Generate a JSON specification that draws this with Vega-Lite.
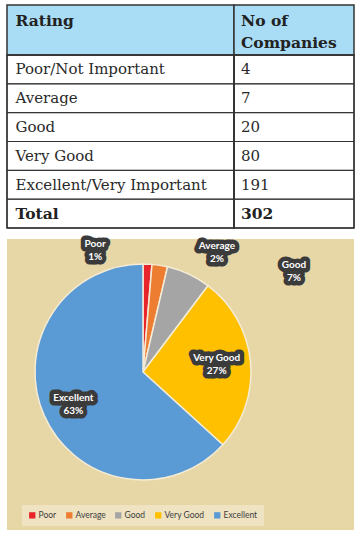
{
  "$schema": "https://vega.github.io/schema/vega-lite/v6.json",
  "padding": {"left": 5, "top": 4, "right": 5, "bottom": 5},
  "background": "#ffffff",
  "spacing": 9,
  "datasets": {
    "ratings": [
      {"Rating": "Poor/Not Important", "Label": "Poor", "Companies": 4, "PieLabel": "Poor\n1%"},
      {"Rating": "Average", "Label": "Average", "Companies": 7, "PieLabel": "Average\n2%"},
      {"Rating": "Good", "Label": "Good", "Companies": 20, "PieLabel": "Good\n7%"},
      {"Rating": "Very Good", "Label": "Very Good", "Companies": 80, "PieLabel": "Very Good\n27%"},
      {"Rating": "Excellent/Very Important", "Label": "Excellent", "Companies": 191, "PieLabel": "Excellent\n63%"},
      {"Rating": "Total", "Label": null, "Companies": 302, "PieLabel": null}
    ],
    "columns": [{"Column": "Rating"}, {"Column": "No of\nCompanies"}]
  },
  "config": {"view": {"stroke": null}, "font": "DejaVu Serif"},
  "vconcat": [
    {
      "columns": 2,
      "spacing": 0,
      "bounds": "flush",
      "align": "each",
      "concat": [
        {
          "width": 227, "height": 50,
          "view": {"fill": "#a9dcf5", "stroke": "#333333", "strokeWidth": 1.5},
          "data": {"name": "columns"},
          "transform": [{"filter": "datum.Column === 'Rating'"}],
          "mark": {"type": "text", "align": "left", "baseline": "alphabetic", "dx": -105, "dy": -4, "font": "DejaVu Serif", "fontWeight": "bold", "fontSize": 15.5, "fill": "#222222"},
          "encoding": {"text": {"field": "Column", "type": "nominal"}}
        },
        {
          "width": 120, "height": 50,
          "view": {"fill": "#a9dcf5", "stroke": "#333333", "strokeWidth": 1.5},
          "data": {"name": "columns"},
          "transform": [{"filter": "datum.Column !== 'Rating'"}],
          "mark": {"type": "text", "align": "left", "baseline": "alphabetic", "dx": -53, "dy": -4, "lineBreak": "\n", "lineHeight": 22, "font": "DejaVu Serif", "fontWeight": "bold", "fontSize": 15.5, "fill": "#222222"},
          "encoding": {"text": {"field": "Column", "type": "nominal"}}
        },
        {
          "width": 227, "height": 173,
          "view": {"stroke": "#333333", "strokeWidth": 1.5},
          "data": {"name": "ratings"},
          "encoding": {"y": {"field": "Rating", "type": "nominal", "sort": null, "axis": null, "scale": {"paddingInner": 0, "paddingOuter": 0}}},
          "layer": [
            {"mark": {"type": "rect", "fill": "transparent", "stroke": "#333333", "strokeWidth": 1}},
            {
              "transform": [{"filter": "datum.Rating !== 'Total'"}],
              "mark": {"type": "text", "align": "left", "baseline": "middle", "dx": -105, "font": "DejaVu Serif", "fontSize": 15, "fill": "#2a2a2a"},
              "encoding": {"text": {"field": "Rating", "type": "nominal"}}
            },
            {
              "transform": [{"filter": "datum.Rating === 'Total'"}],
              "mark": {"type": "text", "align": "left", "baseline": "middle", "dx": -105, "font": "DejaVu Serif", "fontWeight": "bold", "fontSize": 15.5, "fill": "#222222"},
              "encoding": {"text": {"field": "Rating", "type": "nominal"}}
            }
          ]
        },
        {
          "width": 120, "height": 173,
          "view": {"stroke": "#333333", "strokeWidth": 1.5},
          "data": {"name": "ratings"},
          "encoding": {"y": {"field": "Rating", "type": "nominal", "sort": null, "axis": null, "scale": {"paddingInner": 0, "paddingOuter": 0}}},
          "layer": [
            {"mark": {"type": "rect", "fill": "transparent", "stroke": "#333333", "strokeWidth": 1}},
            {
              "transform": [{"filter": "datum.Rating !== 'Total'"}],
              "mark": {"type": "text", "align": "left", "baseline": "middle", "dx": -53, "font": "DejaVu Serif", "fontSize": 15, "fill": "#2a2a2a"},
              "encoding": {"text": {"field": "Companies", "type": "nominal"}}
            },
            {
              "transform": [{"filter": "datum.Rating === 'Total'"}],
              "mark": {"type": "text", "align": "left", "baseline": "middle", "dx": -53, "font": "DejaVu Serif", "fontWeight": "bold", "fontSize": 15.5, "fill": "#222222"},
              "encoding": {"text": {"field": "Companies", "type": "nominal"}}
            }
          ]
        }
      ]
    },
    {
      "width": 347, "height": 291,
      "view": {"fill": "#e8d7a6", "stroke": null},
      "data": {"name": "ratings"},
      "transform": [
        {"filter": "datum.Rating !== 'Total'"},
        {"stack": "Companies", "groupby": [], "sort": [{"field": "Companies", "order": "ascending"}], "as": ["c0", "c1"]}
      ],
      "layer": [
        {
          "mark": {"type": "arc", "x": 136, "y": 133, "outerRadius": 108, "stroke": "#f4ecd6", "strokeWidth": 1.5},
          "encoding": {
            "theta": {"field": "c1", "type": "quantitative", "stack": null},
            "theta2": {"field": "c0"},
            "color": {
              "field": "Label", "type": "nominal",
              "sort": ["Poor", "Average", "Good", "Very Good", "Excellent"],
              "scale": {"domain": ["Poor", "Average", "Good", "Very Good", "Excellent"], "range": ["#e8252a", "#ed7d31", "#a5a5a5", "#ffc000", "#5b9bd5"]},
              "legend": {"orient": "none", "legendX": 15, "legendY": 500, "direction": "horizontal", "title": null, "symbolType": "square", "symbolSize": 40, "symbolStrokeWidth": 0, "labelFont": "Lato", "labelFontSize": 8.5, "labelColor": "#404040", "labelOffset": 2, "columnPadding": 8, "padding": 6, "fillColor": "rgba(246,240,222,0.5)"}
            }
          }
        },
        {
          "transform": [{"filter": "datum.Label === 'Poor'"}],
          "mark": {"type": "text", "x": 136, "y": 133, "radius": 130, "thetaOffset": -0.377, "dy": -7, "lineBreak": "\n", "lineHeight": 13, "font": "Lato", "fontWeight": "bold", "fontSize": 10, "fill": "#3b3b3b", "stroke": "#3b3b3b", "strokeWidth": 9, "strokeJoin": "round"},
          "encoding": {"theta": {"field": "c0", "type": "quantitative", "stack": null}, "text": {"field": "PieLabel", "type": "nominal"}}
        },
        {
          "transform": [{"filter": "datum.Label === 'Poor'"}],
          "mark": {"type": "text", "x": 136, "y": 133, "radius": 130, "thetaOffset": -0.377, "dy": -7, "lineBreak": "\n", "lineHeight": 13, "font": "Lato", "fontWeight": "bold", "fontSize": 10, "fill": "#ffffff"},
          "encoding": {"theta": {"field": "c0", "type": "quantitative", "stack": null}, "text": {"field": "PieLabel", "type": "nominal"}}
        },
        {
          "transform": [{"filter": "datum.Label === 'Average'"}],
          "mark": {"type": "text", "x": 136, "y": 133, "radius": 140, "thetaOffset": 0.473, "dy": -7, "lineBreak": "\n", "lineHeight": 13, "font": "Lato", "fontWeight": "bold", "fontSize": 10, "fill": "#3b3b3b", "stroke": "#3b3b3b", "strokeWidth": 9, "strokeJoin": "round"},
          "encoding": {"theta": {"field": "c0", "type": "quantitative", "stack": null}, "text": {"field": "PieLabel", "type": "nominal"}}
        },
        {
          "transform": [{"filter": "datum.Label === 'Average'"}],
          "mark": {"type": "text", "x": 136, "y": 133, "radius": 140, "thetaOffset": 0.473, "dy": -7, "lineBreak": "\n", "lineHeight": 13, "font": "Lato", "fontWeight": "bold", "fontSize": 10, "fill": "#ffffff"},
          "encoding": {"theta": {"field": "c0", "type": "quantitative", "stack": null}, "text": {"field": "PieLabel", "type": "nominal"}}
        },
        {
          "transform": [{"filter": "datum.Label === 'Good'"}],
          "mark": {"type": "text", "x": 136, "y": 133, "radius": 181, "thetaOffset": 0.757, "dy": -7, "lineBreak": "\n", "lineHeight": 13, "font": "Lato", "fontWeight": "bold", "fontSize": 10, "fill": "#3b3b3b", "stroke": "#3b3b3b", "strokeWidth": 9, "strokeJoin": "round"},
          "encoding": {"theta": {"field": "c0", "type": "quantitative", "stack": null}, "text": {"field": "PieLabel", "type": "nominal"}}
        },
        {
          "transform": [{"filter": "datum.Label === 'Good'"}],
          "mark": {"type": "text", "x": 136, "y": 133, "radius": 181, "thetaOffset": 0.757, "dy": -7, "lineBreak": "\n", "lineHeight": 13, "font": "Lato", "fontWeight": "bold", "fontSize": 10, "fill": "#ffffff"},
          "encoding": {"theta": {"field": "c0", "type": "quantitative", "stack": null}, "text": {"field": "PieLabel", "type": "nominal"}}
        },
        {
          "transform": [{"filter": "datum.Label === 'Very Good'"}],
          "mark": {"type": "text", "x": 136, "y": 133, "radius": 74, "thetaOffset": 0.832, "dy": -7, "lineBreak": "\n", "lineHeight": 13, "font": "Lato", "fontWeight": "bold", "fontSize": 10, "fill": "#3b3b3b", "stroke": "#3b3b3b", "strokeWidth": 9, "strokeJoin": "round"},
          "encoding": {"theta": {"field": "c0", "type": "quantitative", "stack": null}, "text": {"field": "PieLabel", "type": "nominal"}}
        },
        {
          "transform": [{"filter": "datum.Label === 'Very Good'"}],
          "mark": {"type": "text", "x": 136, "y": 133, "radius": 74, "thetaOffset": 0.832, "dy": -7, "lineBreak": "\n", "lineHeight": 13, "font": "Lato", "fontWeight": "bold", "fontSize": 10, "fill": "#ffffff"},
          "encoding": {"theta": {"field": "c0", "type": "quantitative", "stack": null}, "text": {"field": "PieLabel", "type": "nominal"}}
        },
        {
          "transform": [{"filter": "datum.Label === 'Excellent'"}],
          "mark": {"type": "text", "x": 136, "y": 133, "radius": 77, "thetaOffset": 1.963, "dy": -7, "lineBreak": "\n", "lineHeight": 13, "font": "Lato", "fontWeight": "bold", "fontSize": 10, "fill": "#3b3b3b", "stroke": "#3b3b3b", "strokeWidth": 9, "strokeJoin": "round"},
          "encoding": {"theta": {"field": "c0", "type": "quantitative", "stack": null}, "text": {"field": "PieLabel", "type": "nominal"}}
        },
        {
          "transform": [{"filter": "datum.Label === 'Excellent'"}],
          "mark": {"type": "text", "x": 136, "y": 133, "radius": 77, "thetaOffset": 1.963, "dy": -7, "lineBreak": "\n", "lineHeight": 13, "font": "Lato", "fontWeight": "bold", "fontSize": 10, "fill": "#ffffff"},
          "encoding": {"theta": {"field": "c0", "type": "quantitative", "stack": null}, "text": {"field": "PieLabel", "type": "nominal"}}
        }
      ]
    }
  ]
}
